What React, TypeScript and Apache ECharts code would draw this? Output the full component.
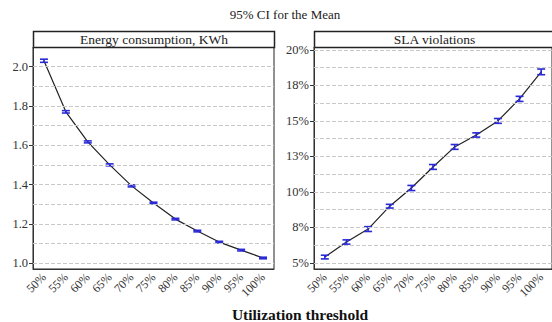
import React, { useEffect, useRef } from "react";
import * as echarts from "echarts";

const categories = ["50%", "55%", "60%", "65%", "70%", "75%", "80%", "85%", "90%", "95%", "100%"];
const energyMean = [2.03, 1.77, 1.617, 1.5, 1.393, 1.306, 1.224, 1.163, 1.107, 1.066, 1.026];
const energyHalfCI = [0.008, 0.006, 0.005, 0.005, 0.005, 0.004, 0.004, 0.004, 0.004, 0.004, 0.004];
const slaMean = [5.42, 6.48, 7.39, 9.0, 10.28, 11.76, 13.17, 14.01, 15.0, 16.55, 18.45];
const slaHalfCI = [0.13, 0.15, 0.17, 0.13, 0.18, 0.17, 0.17, 0.15, 0.17, 0.18, 0.2];
const energyLabelValues = [1.0, 1.2, 1.4, 1.6, 1.8, 2.0];
const energyGridValues = [1.0, 1.1, 1.2, 1.3, 1.4, 1.5, 1.6, 1.7, 1.8, 1.9, 2.0];
const slaLabelValues = [5, 7.5, 10, 12.5, 15, 17.5, 20];
const slaGridValues = [5, 6.25, 7.5, 8.75, 10, 11.25, 12.5, 13.75, 15, 16.25, 17.5, 18.75, 20];

const FONT = "Liberation Serif";
const BLUE = "#2a2ad6";

function errRender(params: any, api: any) {
  const x = api.value(0);
  const lo = api.coord([x, api.value(1)]);
  const hi = api.coord([x, api.value(2)]);
  const w = 4;
  const style = { stroke: BLUE, lineWidth: 1.6 };
  return {
    type: "group",
    children: [
      { type: "line", shape: { x1: lo[0], y1: lo[1], x2: hi[0], y2: hi[1] }, style },
      { type: "line", shape: { x1: lo[0] - w, y1: lo[1], x2: lo[0] + w, y2: lo[1] }, style },
      { type: "line", shape: { x1: hi[0] - w, y1: hi[1], x2: hi[0] + w, y2: hi[1] }, style },
    ],
  };
}

export default function App() {
  const ref = useRef<HTMLDivElement>(null);
  useEffect(() => {
    document.body.style.margin = "0";
    const chart = echarts.init(ref.current!, null, { renderer: "svg" });
    const gridL = { left: 33, top: 47, width: 241, height: 222 };
    const gridR = { left: 314, top: 47, width: 241, height: 222 };
    const xAxisCommon = (gi: number) => ({
      type: "category",
      gridIndex: gi,
      data: categories,
      boundaryGap: true,
      axisLine: { show: true, lineStyle: { color: "#333", width: 1 } },
      axisTick: { alignWithLabel: true, length: 4, lineStyle: { color: "#333" } },
      axisLabel: {
        rotate: 45,
        interval: 0,
        fontFamily: FONT,
        fontSize: 12,
        color: "#333",
        margin: 6,
      },
      splitLine: { show: false },
    });
    const yCommon = (gi: number, min: number, max: number, labels: number[], fmt: (v: number) => string) => ({
      type: "value",
      gridIndex: gi,
      min,
      max,
      axisLine: { show: true, lineStyle: { color: "#333" } },
      axisTick: { show: true, length: 4, lineStyle: { color: "#333" }, customValues: labels },
      axisLabel: {
        fontFamily: FONT,
        fontSize: 12.5,
        color: "#333",
        margin: 5,
        customValues: labels,
        formatter: fmt,
      },
      splitLine: { show: false },
    });
    const gridLines = (vals: number[]) => ({
      silent: true,
      symbol: "none",
      label: { show: false },
      lineStyle: { color: "#c8c8c8", type: "dashed", width: 1 },
      data: vals.map((v) => ({ yAxis: v })),
    });
    chart.setOption({
      animation: false,
      backgroundColor: "#fff",
      grid: [
        { ...gridL, show: true, borderColor: "#222", borderWidth: 1 },
        { ...gridR, show: true, borderColor: "#222", borderWidth: 1 },
      ],
      xAxis: [xAxisCommon(0), xAxisCommon(1)],
      yAxis: [
        yCommon(0, 0.97, 2.1, energyLabelValues, (v: number) => v.toFixed(1)),
        yCommon(1, 4.58, 20.2, slaLabelValues, (v: number) => Math.round(v) + "%"),
      ],
      title: [
        {
          text: "95% CI for the Mean",
          left: 280,
          top: 3,
          textAlign: "center",
          textStyle: { fontFamily: FONT, fontSize: 13, fontWeight: "normal", color: "#222" },
        },
        {
          text: "Utilization threshold",
          left: 295,
          top: 301,
          textAlign: "center",
          textStyle: { fontFamily: FONT, fontSize: 15.5, fontWeight: "bold", color: "#111" },
        },
      ],
      graphic: [
        {
          type: "rect",
          shape: { x: 33.5, y: 31.5, width: 241, height: 16 },
          style: { fill: "#fff", stroke: "#222", lineWidth: 1.5 },
        },
        {
          type: "text",
          x: 154,
          y: 39.5,
          style: {
            text: "Energy consumption, KWh",
            fontFamily: FONT,
            fontSize: 13.5,
            fill: "#222",
            textAlign: "center",
            textVerticalAlign: "middle",
          },
        },
        {
          type: "rect",
          shape: { x: 314.5, y: 31.5, width: 241, height: 16 },
          style: { fill: "#fff", stroke: "#222", lineWidth: 1.5 },
        },
        {
          type: "text",
          x: 434.5,
          y: 39.5,
          style: {
            text: "SLA violations",
            fontFamily: FONT,
            fontSize: 13.5,
            fill: "#222",
            textAlign: "center",
            textVerticalAlign: "middle",
          },
        },
      ],
      series: [
        {
          type: "line",
          xAxisIndex: 0,
          yAxisIndex: 0,
          data: energyMean,
          symbol: "none",
          lineStyle: { color: "#222", width: 1.2 },
          markLine: gridLines(energyGridValues),
          z: 3,
        },
        {
          type: "custom",
          xAxisIndex: 0,
          yAxisIndex: 0,
          renderItem: errRender,
          data: energyMean.map((m, i) => [i, m - energyHalfCI[i], m + energyHalfCI[i]]),
          z: 4,
        },
        {
          type: "line",
          xAxisIndex: 1,
          yAxisIndex: 1,
          data: slaMean,
          symbol: "none",
          lineStyle: { color: "#222", width: 1.2 },
          markLine: gridLines(slaGridValues),
          z: 3,
        },
        {
          type: "custom",
          xAxisIndex: 1,
          yAxisIndex: 1,
          renderItem: errRender,
          data: slaMean.map((m, i) => [i, m - slaHalfCI[i], m + slaHalfCI[i]]),
          z: 4,
        },
      ],
    });
    return () => chart.dispose();
  }, []);
  return <div ref={ref} style={{ width: 552, height: 322 }} />;
}
